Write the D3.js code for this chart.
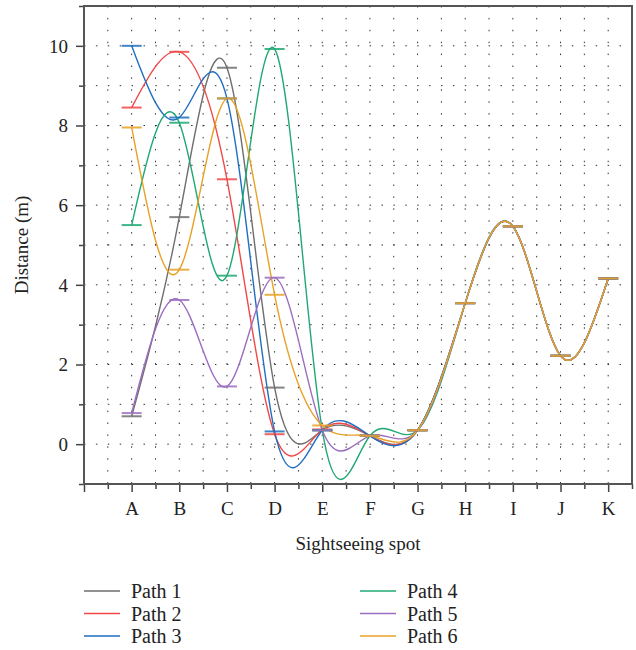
<!DOCTYPE html>
<html>
<head>
<meta charset="utf-8">
<script src="https://cdn.jsdelivr.net/npm/d3@7"></script>
<style>
	body { margin: 0; background: #fff; }
	text { font-family: "Liberation Serif", "DejaVu Serif", serif; fill: #222; }
</style>
</head>
<body>
<div id="chart"></div>
<script>

// (data) Sightseeing spots and distances per path
var spots = ["A", "B", "C", "D", "E", "F", "G", "H", "I", "J", "K"];
var path1 = [0.70, 5.70, 9.45, 1.42, 0.35, 0.21, 0.35, 3.54, 5.47, 2.22, 4.16];
var path2 = [8.45, 9.85, 6.65, 0.25, 0.37, 0.21, 0.35, 3.54, 5.47, 2.22, 4.16];
var path3 = [10.0, 8.20, 8.68, 0.32, 0.35, 0.21, 0.35, 3.54, 5.47, 2.22, 4.16];
var path4 = [5.50, 8.07, 4.23, 9.92, 0.35, 0.21, 0.35, 3.54, 5.47, 2.22, 4.16];
var path5 = [0.78, 3.62, 1.45, 4.18, 0.35, 0.21, 0.35, 3.54, 5.47, 2.22, 4.16];
var path6 = [7.95, 4.38, 8.68, 3.75, 0.47, 0.21, 0.35, 3.54, 5.47, 2.22, 4.16];
var pathNames = ["Path 1", "Path 2", "Path 3", "Path 4", "Path 5", "Path 6"];
var pathColors = ["#6e6e6e", "#f04848", "#1f6ec0", "#1fa872", "#9b6dc0", "#e8a126"];
var yTicks = [0, 2, 4, 6, 8, 10];

var series = [path1, path2, path3, path4, path5, path6].map(function(v, i) {
	return { name: pathNames[i], color: pathColors[i], values: v };
});

var width = 636, height = 650;
var margin = { left: 84, right: 4, top: 6, bottom: 166 };

var svg = d3.select("#chart")
	.append("svg")
	.attr("width", width)
	.attr("height", height);

// (scales) x positions 1..11 for spots, y in metres
var x = d3.scaleLinear()
	.domain([0, 11.5])
	.range([margin.left, width - margin.right]);
var y = d3.scaleLinear()
	.domain([-1, 11])
	.range([height - margin.bottom, margin.top]);

// (grid) Dotted grid lines
var grid = svg.append("g")
	.attr("stroke", "#333")
	.attr("stroke-width", 1)
	.attr("stroke-dasharray", "1.5,10.4");
grid.selectAll("line.v")
	.data(d3.range(0.5, 11.5, 0.5))
	.enter()
	.append("line")
	.attr("x1", function(d) { return x(d); })
	.attr("x2", function(d) { return x(d); })
	.attr("y1", y(11))
	.attr("y2", y(-1));
grid.selectAll("line.h")
	.data(d3.range(0, 11, 1))
	.enter()
	.append("line")
	.attr("x1", x(0))
	.attr("x2", x(11.5))
	.attr("y1", function(d) { return y(d); })
	.attr("y2", function(d) { return y(d); });

// (axes) Left and bottom axes with minor ticks
var xAxis = d3.axisBottom(x)
	.tickValues(d3.range(0, 12, 1))
	.tickSize(8)
	.tickFormat(function(d) { return d === 0 ? "" : spots[d - 1]; });
var xMinor = d3.axisBottom(x)
	.tickValues(d3.range(0.5, 11.6, 1))
	.tickSize(5)
	.tickFormat("");
var yAxis = d3.axisLeft(y)
	.tickValues(yTicks)
	.tickSize(8);
var yMinor = d3.axisLeft(y)
	.tickValues([-1, 1, 3, 5, 7, 9, 11])
	.tickSize(5)
	.tickFormat("");

var gx = svg.append("g")
	.attr("transform", "translate(0," + y(-1) + ")")
	.call(xAxis);
svg.append("g")
	.attr("transform", "translate(0," + y(-1) + ")")
	.call(xMinor);
var gy = svg.append("g")
	.attr("transform", "translate(" + x(0) + ",0)")
	.call(yAxis);
svg.append("g")
	.attr("transform", "translate(" + x(0) + ",0)")
	.call(yMinor);

svg.selectAll(".domain").remove();
svg.selectAll(".tick line")
	.attr("stroke", "#444")
	.attr("stroke-width", 1.5);
gx.selectAll("text")
	.attr("font-size", "19px")
	.attr("dy", "1.05em");
gy.selectAll("text")
	.attr("font-size", "19px")
	.attr("x", -16)
	.attr("dy", "0.34em");

// (frame) Box around the plot
svg.append("rect")
	.attr("x", x(0))
	.attr("y", y(11))
	.attr("width", x(11.5) - x(0))
	.attr("height", y(-1) - y(11))
	.attr("fill", "none")
	.attr("stroke", "#555")
	.attr("stroke-width", 2);

// (lines) Smoothed paths
var line = d3.line()
	.x(function(d, i) { return x(i + 1); })
	.y(function(d) { return y(d); })
	.curve(d3.curveNatural);

svg.append("g")
	.selectAll("path")
	.data(series)
	.enter()
	.append("path")
	.attr("d", function(d) { return line(d.values); })
	.attr("fill", "none")
	.attr("stroke", function(d) { return d.color; })
	.attr("stroke-width", 1.4);

// (markers) Dash markers at each data point
var markers = svg.append("g");
series.forEach(function(s) {
	markers.selectAll(null)
		.data(s.values)
		.enter()
		.append("line")
		.attr("x1", function(d, i) { return x(i + 1) - 10; })
		.attr("x2", function(d, i) { return x(i + 1) + 10; })
		.attr("y1", function(d) { return y(d); })
		.attr("y2", function(d) { return y(d); })
		.attr("stroke", s.color)
		.attr("stroke-opacity", 0.85)
		.attr("stroke-width", 2);
});

// (titles) Axis titles
svg.append("text")
	.attr("x", 358)
	.attr("y", 550)
	.attr("text-anchor", "middle")
	.attr("font-size", "19px")
	.text("Sightseeing spot");
svg.append("text")
	.attr("transform", "translate(28," + ((y(11) + y(-1)) / 2) + ") rotate(-90)")
	.attr("text-anchor", "middle")
	.attr("font-size", "19px")
	.text("Distance (m)");

// (legend) Two columns of three entries
var legend = svg.selectAll("g.legend")
	.data(series)
	.enter()
	.append("g")
	.attr("transform", function(d, i) {
		var col = Math.floor(i / 3), row = i % 3;
		return "translate(" + (84 + col * 276) + "," + (591 + row * 22.5) + ")";
	});
legend.append("line")
	.attr("x1", 0)
	.attr("x2", 36)
	.attr("stroke", function(d) { return d.color; })
	.attr("stroke-width", 1.6);
legend.append("text")
	.attr("x", 47)
	.attr("dy", "0.35em")
	.attr("font-size", "20px")
	.text(function(d) { return d.name; });

</script>
</body>
</html>
